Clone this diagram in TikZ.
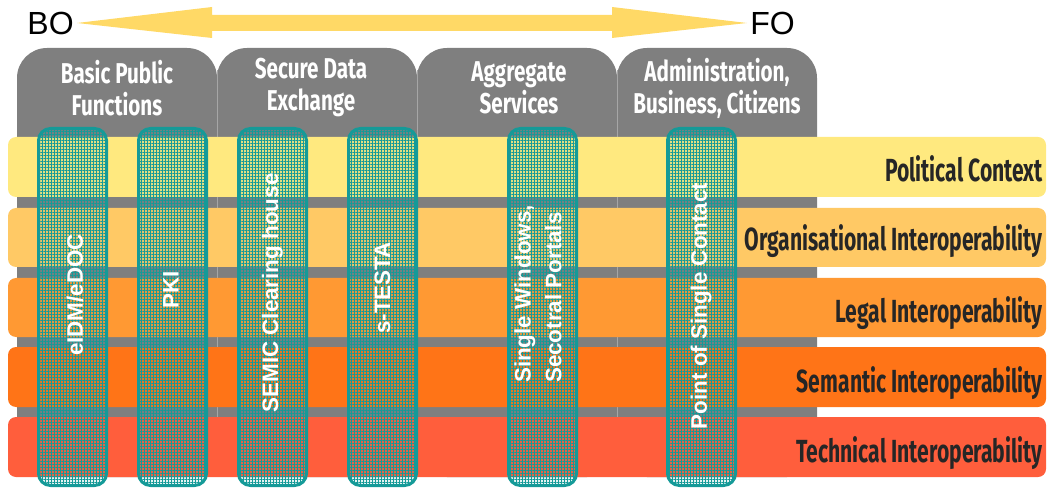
\documentclass[tikz,border=0pt]{standalone}
\usepackage{fontspec}
\usetikzlibrary{patterns.meta}
\setmainfont{Liberation Sans}
\newfontfamily\agency[FakeStretch=0.66]{Fira Sans}
\newfontfamily\agencyhead[FakeStretch=0.72]{Fira Sans}
\definecolor{arrowcol}{HTML}{FFD966}
\definecolor{tabgray}{HTML}{7F7F7F}
\definecolor{sepgray}{HTML}{A6A6A6}
\definecolor{polit}{HTML}{FFE97F}
\definecolor{orgc}{HTML}{FFC965}
\definecolor{legalc}{HTML}{FF9933}
\definecolor{semc}{HTML}{FF7417}
\definecolor{techc}{HTML}{FF5E3C}
\definecolor{tealc}{HTML}{159A98}
\definecolor{darktext}{HTML}{262626}
\begin{document}
\begin{tikzpicture}[x=0.75pt,y=-0.75pt,
  tab/.style={fill=tabgray, rounded corners=22.5pt},
  band/.style={rounded corners=6pt},
  colfill/.style={fill=tealc, fill opacity=0.12, rounded corners=9pt},
  colgrid/.style={pattern={Hatch[angle=0, distance=2.25pt, line width=0.45pt]}, pattern color=tealc, rounded corners=9pt},
  colbox/.style={draw=tealc, line width=2.25pt, rounded corners=9pt},
  coltext/.style={rotate=90, text=white, font=\fontsize{16.8}{23}\selectfont\bfseries, inner sep=0pt},
  headtext/.style={text=white, align=center, font=\agencyhead\bfseries\fontsize{21.5}{24}\selectfont, inner sep=0pt},
  bandtext/.style={text=darktext, anchor=base east, font=\agency\bfseries\fontsize{24}{28}\selectfont, inner sep=0pt},
  endtext/.style={font=\fontsize{24}{28}\selectfont, inner sep=0pt}]
\useasboundingbox (0,0) rectangle (1049,488);
% double arrow
\fill[arrowcol] (77,23) -- (212,7) -- (212,15) -- (612,15) -- (612,7) -- (747,23)
  -- (612,38) -- (612,31) -- (212,31) -- (212,38) -- cycle;
\node[endtext, anchor=east] (bo) at (74,23) {BO};
\node[endtext, anchor=west] (fo) at (750,23) {FO};
% tabs
\fill[tab] (17,48) rectangle (217,477);
\fill[tab] (217,48) rectangle (417,477);
\fill[tab] (417,48) rectangle (617,477);
\fill[tab] (617,48) rectangle (817,477);
\draw[sepgray, line width=0.75pt] (217,70) -- (217,477);
\draw[sepgray, line width=0.75pt] (417,70) -- (417,477);
\draw[sepgray, line width=0.75pt] (617,70) -- (617,477);
% bands
\fill[band, polit] (8,137) rectangle (1046,197);
\fill[band, orgc] (8,208) rectangle (1046,267);
\fill[band, legalc] (8,278) rectangle (1046,337);
\fill[band, semc] (8,347) rectangle (1046,407);
\fill[band, techc] (8,417) rectangle (1046,477);
% headers
\node[headtext] (h1) at (117,88) {Basic Public\\Functions};
\node[headtext] (h2) at (311,88) {Secure Data\\Exchange};
\node[headtext] (h3) at (519,88) {Aggregate\\Services};
\node[headtext] (h4) at (717,88) {Administration,\\Business, Citizens};
% band labels
\node[bandtext] (l1) at (1043,182) {Political Context};
\node[bandtext] (l2) at (1043,251) {Organisational Interoperability};
\node[bandtext] (l3) at (1043,322) {Legal Interoperability};
\node[bandtext] (l4) at (1043,392) {Semantic Interoperability};
\node[bandtext] (l5) at (1043,462) {Technical Interoperability};
% columns
\foreach \xa/\xb [count=\i] in {38.5/106.5, 138.5/206.5, 238.5/306.5, 348.5/416.5, 508.5/576.5, 667.5/735.5}{
  \fill[colfill] (\xa,128.5) rectangle (\xb,485.5);
  \fill[colgrid] (\xa,128.5) rectangle (\xb,485.5);
  \draw[colbox] (\xa,128.5) rectangle (\xb,485.5);
}
\node[coltext] (c1) at (75,295) {eIDM/eDOC};
\node[coltext] (c2) at (171,290) {PKI};
\node[coltext] (c3) at (272.5,293) {SEMIC Clearing house};
\node[coltext] (c4) at (382.5,288) {s-TESTA};
\node[coltext, align=left] (c5) at (538,294) {Single Windows,\\Secotral Portals};
\node[coltext] (c6) at (701,306) {Point of Single Contact};
\end{tikzpicture}
\end{document}
